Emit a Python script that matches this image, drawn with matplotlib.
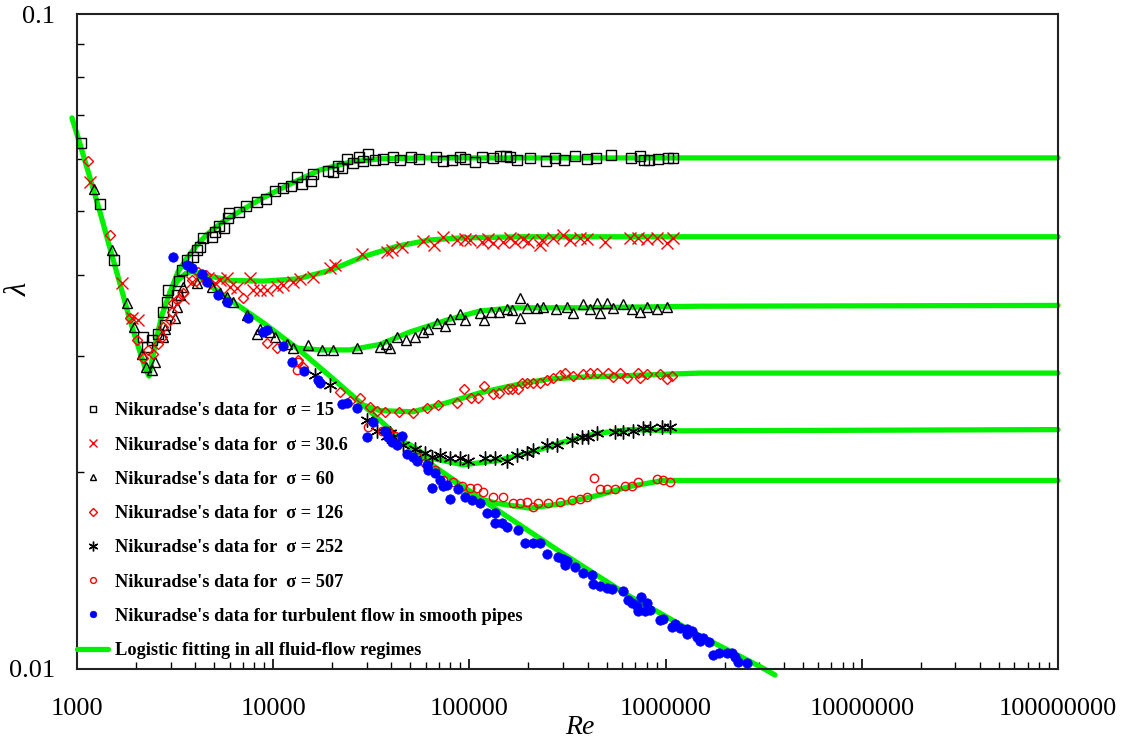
import numpy as np
import matplotlib.pyplot as plt
from matplotlib.ticker import NullFormatter, FixedLocator, LogLocator

plt.rcParams['font.family'] = ['Liberation Serif', 'DejaVu Serif']

# Nikuradse's data, sigma = 15
re_15 = [1048, 1311, 1544, 2168, 2273, 2411, 2587, 2743, 2809, 2875, 2909, 3234, 3310, 3428, 3636, 3902,
         4093, 4236, 4387, 4877, 5053, 5293, 5617, 5889, 5958, 6690, 7262, 8268, 9190, 10220, 11220, 12330,
         13220, 14000, 15590, 15960, 19010, 20170, 21390, 22400, 23760, 25500, 27360, 28690, 30420, 33010,
         36300, 40810, 44310, 50420, 55380, 67520, 73380, 81500, 89520, 94920, 106800, 115900, 132000,
         143800, 153700, 161200, 175600, 203500, 245700, 273300, 303500, 345600, 397700, 441900, 527300,
         666900, 741400, 776000, 822900, 915000, 1029000, 1091000]
lam_15 = [0.0635, 0.0513, 0.0421, 0.0321, 0.0310, 0.0318, 0.0325, 0.0351, 0.0335, 0.0363, 0.0379, 0.0372,
          0.0391, 0.0406, 0.0421, 0.0425, 0.0436, 0.0441, 0.0455, 0.0457, 0.0465, 0.0474, 0.0472, 0.0488,
          0.0497, 0.0498, 0.0509, 0.0516, 0.0522, 0.0537, 0.0543, 0.0546, 0.0564, 0.0550, 0.0556, 0.0570,
          0.0576, 0.0573, 0.0586, 0.0582, 0.0601, 0.0592, 0.0605, 0.0597, 0.0611, 0.0599, 0.0601, 0.0605,
          0.0599, 0.0605, 0.0601, 0.0605, 0.0597, 0.0599, 0.0605, 0.0601, 0.0594, 0.0605, 0.0603, 0.0607,
          0.0607, 0.0605, 0.0599, 0.0603, 0.0597, 0.0603, 0.0599, 0.0607, 0.0601, 0.0603, 0.0609, 0.0603,
          0.0607, 0.0599, 0.0599, 0.0601, 0.0603, 0.0603]

# sigma = 30.6
re_30 = [1165, 1696, 1905, 2045, 3469, 3858, 4336, 4630, 5054, 5358, 5819, 6026, 6535, 7610, 7887, 8562,
         9293, 10460, 11220, 12620, 13700, 15960, 19470, 20630, 28330, 38020, 40330, 45300, 58040, 66000,
         73390, 86420, 94920, 100700, 115900, 124500, 132000, 148400, 161200, 171000, 187500, 198700,
         228800, 234400, 266800, 299800, 325700, 366200, 397600, 491200, 658800, 721900, 803800, 904000,
         1018000, 1091000]
lam_30 = [0.0554, 0.0388, 0.0343, 0.0341, 0.0369, 0.0390, 0.0392, 0.0395, 0.0388, 0.0392, 0.0395, 0.0383,
          0.0382, 0.0395, 0.0379, 0.0379, 0.0379, 0.0383, 0.0386, 0.0390, 0.0394, 0.0397, 0.0409, 0.0414,
          0.0430, 0.0433, 0.0436, 0.0441, 0.0450, 0.0444, 0.0457, 0.0452, 0.0454, 0.0452, 0.0449, 0.0454,
          0.0447, 0.0449, 0.0455, 0.0449, 0.0454, 0.0449, 0.0444, 0.0452, 0.0455, 0.0460, 0.0452, 0.0455,
          0.0454, 0.0449, 0.0455, 0.0455, 0.0454, 0.0455, 0.0447, 0.0455]

# sigma = 60
re_60 = [1221, 1509, 1799, 1951, 2143, 2244, 2409, 2497, 2743, 2809, 3158, 3235, 3349, 3469, 4093, 4877,
         5358, 5819, 6235, 7347, 8269, 8562, 9630, 10220, 11760, 12620, 15060, 17730, 20170, 26730, 35030,
         37630, 39390, 42840, 47530, 52830, 58040, 61550, 68340, 75090, 79590, 89520, 94920, 113200,
         118700, 128900, 141600, 155700, 165000, 181200, 181200, 196500, 220700, 237200, 276600, 314400,
         337100, 379400, 412000, 447100, 462200, 503200, 539300, 607000, 674600, 741400, 803800, 904000,
         1018000]
lam_60 = [0.0541, 0.0436, 0.0362, 0.0333, 0.0303, 0.0289, 0.0286, 0.0294, 0.0321, 0.0331, 0.0344, 0.0357,
          0.0372, 0.0383, 0.0388, 0.0383, 0.0375, 0.0370, 0.0363, 0.0347, 0.0325, 0.0331, 0.0327, 0.0321,
          0.0314, 0.0309, 0.0312, 0.0307, 0.0307, 0.0309, 0.0310, 0.0313, 0.0309, 0.0321, 0.0318, 0.0321,
          0.0327, 0.0330, 0.0338, 0.0334, 0.0342, 0.0348, 0.0341, 0.0350, 0.0341, 0.0351, 0.0351, 0.0354,
          0.0353, 0.0369, 0.0343, 0.0356, 0.0356, 0.0357, 0.0354, 0.0357, 0.0350, 0.0361, 0.0354, 0.0362,
          0.0350, 0.0362, 0.0356, 0.0361, 0.0355, 0.0351, 0.0357, 0.0355, 0.0357]

# sigma = 126
re_126 = [1138, 1473, 1861, 2021, 2168, 2301, 2439, 2587, 2710, 2743, 2979, 3048, 3086, 3235, 3469, 3858,
          4140, 4570, 7010, 9293, 10460, 13380, 14190, 21880, 24620, 27730, 31140, 33800, 37060, 43790,
          51620, 60770, 69100, 86420, 93800, 101900, 110600, 118700, 132000, 141600, 157700, 165000,
          177100, 185400, 196500, 210900, 228800, 248500, 266800, 289300, 307000, 337300, 379400, 411700,
          447100, 508700, 539300, 585900, 636000, 721900, 741400, 803800, 936000, 1018000, 1079000]
lam_126 = [0.0596, 0.0460, 0.0343, 0.0318, 0.0298, 0.0307, 0.0303, 0.0314, 0.0321, 0.0333, 0.0341, 0.0351,
           0.0362, 0.0366, 0.0375, 0.0392, 0.0404, 0.0399, 0.0369, 0.0315, 0.0309, 0.0296, 0.0289, 0.0265,
           0.0257, 0.0259, 0.0251, 0.0248, 0.0247, 0.0247, 0.0246, 0.0250, 0.0253, 0.0255, 0.0268, 0.0259,
           0.0259, 0.0270, 0.0263, 0.0264, 0.0268, 0.0268, 0.0268, 0.0273, 0.0273, 0.0273, 0.0273, 0.0276,
           0.0278, 0.0281, 0.0283, 0.0280, 0.0282, 0.0283, 0.0283, 0.0283, 0.0279, 0.0283, 0.0278, 0.0283,
           0.0278, 0.0282, 0.0282, 0.0277, 0.0280]

# sigma = 252
re_252 = [16340, 19460, 30060, 33800, 38010, 39390, 40810, 45900, 52830, 59440, 64430, 70800, 79590, 89520,
          97940, 120100, 135100, 155700, 175000, 196200, 210900, 248500, 279600, 333300, 375000, 402500,
          447100, 552300, 607000, 682700, 766500, 832400, 958000, 1053000]
lam_252 = [0.0281, 0.0271, 0.0240, 0.0231, 0.0227, 0.0229, 0.0226, 0.0220, 0.0217, 0.0214, 0.0211, 0.0212,
           0.0210, 0.0210, 0.0208, 0.0210, 0.0210, 0.0208, 0.0212, 0.0214, 0.0216, 0.0220, 0.0220, 0.0224,
           0.0226, 0.0226, 0.0229, 0.0230, 0.0230, 0.0231, 0.0233, 0.0233, 0.0234, 0.0234]

# sigma = 507
re_507 = [13220, 13380, 30420, 35860, 38450, 41760, 54080, 59440, 66760, 73390, 82450, 91660, 100700,
          109300, 117400, 132000, 148400, 166900, 181200, 196500, 210900, 223600, 251500, 289300, 333300,
          366200, 398100, 431900, 462200, 503200, 552800, 621500, 674600, 721900, 904000, 970000, 1053000]
lam_507 = [0.0286, 0.0294, 0.0234, 0.0231, 0.0231, 0.0227, 0.0211, 0.0206, 0.0201, 0.0194, 0.0193, 0.0190,
           0.0189, 0.0189, 0.0186, 0.0183, 0.0183, 0.0179, 0.0179, 0.0180, 0.0177, 0.0179, 0.0179, 0.0180,
           0.0181, 0.0182, 0.0183, 0.0196, 0.0188, 0.0188, 0.0188, 0.0190, 0.0190, 0.0193, 0.0195, 0.0194,
           0.0193]

# smooth pipes
re_sm = [3085, 3636, 3852, 4336, 4590, 5233, 5819, 7433, 8873, 9293, 11220, 12480, 14400, 16930, 17320,
         22400, 23760, 26800, 30060, 32250, 37060, 38340, 40330, 42840, 45300, 48070, 51620, 54080, 60770,
         61520, 64430, 66760, 70800, 73390, 76810, 79590, 87450, 94920, 103100, 113200, 122900, 135100,
         135100, 146700, 155700, 177100, 191900, 210900, 228800, 248500, 282900, 299800, 314400, 307000,
         345600, 379400, 421600, 426400, 462200, 503200, 533300, 607000, 643600, 674600, 714900, 749000,
         803800, 722800, 784800, 832400, 936000, 970000, 1079000, 1117000, 1183000, 1287000, 1287000,
         1366000, 1450000, 1502000, 1556000, 1664000, 1745000, 1869000, 2057000, 2188000, 2266000,
         2348000, 2600000]
lam_sm = [0.0425, 0.0414, 0.0409, 0.0401, 0.0390, 0.0372, 0.0363, 0.0343, 0.0327, 0.0329, 0.0311, 0.0294,
          0.0285, 0.0276, 0.0273, 0.0254, 0.0255, 0.0250, 0.0226, 0.0238, 0.0231, 0.0226, 0.0222, 0.0220,
          0.0227, 0.0213, 0.0211, 0.0208, 0.0205, 0.0201, 0.0189, 0.0199, 0.0194, 0.0190, 0.0191, 0.0182,
          0.0188, 0.0183, 0.0181, 0.0179, 0.0173, 0.0173, 0.0167, 0.0167, 0.0165, 0.0163, 0.0156, 0.0156,
          0.0156, 0.0150, 0.0148, 0.0147, 0.0146, 0.0144, 0.0143, 0.0140, 0.0139, 0.01348, 0.01339,
          0.01329, 0.01324, 0.01315, 0.01274, 0.01261, 0.01248, 0.01288, 0.01261, 0.01226, 0.01226,
          0.01231, 0.01189, 0.01193, 0.01160, 0.01172, 0.01156, 0.01152, 0.01129, 0.01144, 0.01121,
          0.01102, 0.01117, 0.01098, 0.01050, 0.01058, 0.01058, 0.01058, 0.01043, 0.01025, 0.01021]

# logistic fitting curves (pieces)
fit_lam_re = [943, 1036, 1165, 1311, 1473, 1658, 1861, 2093, 2244, 2329, 2497, 2710, 2979]
fit_lam_l = [0.0694, 0.0633, 0.0562, 0.0498, 0.0439, 0.0387, 0.0341, 0.0305, 0.0286, 0.0280, 0.0312, 0.0347, 0.0376]
fit15_re = [2979, 3272, 3636, 4093, 4570, 5498, 6771, 8865, 12190, 17320, 24620, 35030, 56040, 1e8]
fit15_l = [0.0376, 0.0404, 0.0424, 0.0444, 0.0460, 0.0481, 0.0500, 0.0524, 0.0550, 0.0578, 0.0594, 0.0601, 0.0603, 0.0603]
fit_hump_re = [2979, 3272, 3598, 3902]
fit_hump_l = [0.0376, 0.0392, 0.0402, 0.0405]
fit_sm_re = [3902, 4937, 6026, 8873, 13220, 19480, 28690, 42760, 63000, 92780, 138200, 203700, 300000,
             447200, 658500, 970100, 1445000, 2129000, 3137000, 3611000]
fit_sm_l = [0.0405, 0.0382, 0.0366, 0.0338, 0.0309, 0.0280, 0.0253, 0.0227, 0.0206, 0.0190, 0.0175, 0.0162,
            0.0150, 0.0139, 0.0129, 0.0121, 0.0113, 0.01065, 0.01003, 0.00979]
fit30_re = [3902, 4765, 6026, 8873, 13220, 19480, 28690, 42760, 63000, 89520, 181200, 1e8]
fit30_l = [0.0405, 0.0398, 0.0392, 0.0391, 0.0394, 0.0406, 0.0426, 0.0442, 0.0452, 0.0455, 0.0457, 0.0457]
fit60_re = [13220, 17320, 24620, 35030, 49830, 76870, 113200, 166900, 366200, 1497000, 1e8]
fit60_l = [0.0309, 0.0307, 0.0307, 0.0313, 0.0327, 0.0341, 0.0352, 0.0356, 0.0356, 0.0358, 0.0359]
fit126_re = [28690, 35030, 51590, 76870, 113200, 166800, 248600, 366300, 539400, 1497000, 1e8]
fit126_l = [0.0253, 0.0248, 0.0247, 0.0255, 0.0264, 0.0271, 0.0277, 0.0279, 0.0280, 0.0283, 0.0283]
fit252_re = [49800, 63000, 92780, 138200, 203700, 300000, 447200, 658500, 1184000, 1e8]
fit252_l = [0.0220, 0.0210, 0.0205, 0.0208, 0.0214, 0.0222, 0.0229, 0.0232, 0.0231, 0.0232]
fit507_re = [79620, 92780, 113200, 138200, 203700, 300000, 447200, 658500, 970100, 1497000, 1e8]
fit507_l = [0.0196, 0.0188, 0.0182, 0.0179, 0.0176, 0.0179, 0.0184, 0.0190, 0.0194, 0.0194, 0.0194]

fig = plt.figure(figsize=(11.37, 7.38), dpi=100)
ax = fig.add_axes([0.0677, 0.0935, 0.8628, 0.8875])
ax.set_xscale('log')
ax.set_yscale('log')

green = '#00f000'
fits = [(fit_lam_re, fit_lam_l), (fit15_re, fit15_l), (fit_hump_re, fit_hump_l), (fit_sm_re, fit_sm_l),
        (fit30_re, fit30_l), (fit60_re, fit60_l), (fit126_re, fit126_l), (fit252_re, fit252_l),
        (fit507_re, fit507_l)]
for i, (fx, fy) in enumerate(fits):
    ax.plot(fx, fy, color=green, lw=3.8, solid_capstyle='round', solid_joinstyle='round',
            clip_on=False, zorder=2,
            label='Logistic fitting in all fluid-flow regimes' if i == 0 else None)

lbl = "Nikuradse's data for  σ = "
ax.plot(re_15, lam_15, ls='none', marker='s', ms=6.5, mfc='none', mec='k', mew=1, zorder=3, label=lbl + '15')
ax.plot(re_30, lam_30, ls='none', marker='x', ms=9, mec='red', mew=1, zorder=3, label=lbl + '30.6')
ax.plot(re_60, lam_60, ls='none', marker='^', ms=7, mfc='none', mec='k', mew=1, zorder=3, label=lbl + '60')
ax.plot(re_126, lam_126, ls='none', marker='D', ms=5.5, mfc='none', mec='red', mew=1, zorder=3, label=lbl + '126')
ax.plot(re_252, lam_252, ls='none', marker=(6, 2, 0), ms=10, mec='k', mew=1, zorder=3, label=lbl + '252')
ax.plot(re_507, lam_507, ls='none', marker='o', ms=6, mfc='none', mec='red', mew=1, zorder=3, label=lbl + '507')
ax.plot(re_sm, lam_sm, ls='none', marker='o', ms=6.8, mfc='blue', mec='blue', mew=0.5, zorder=4,
        label="Nikuradse's data for turbulent flow in smooth pipes")

ax.set_xlim(1000, 1e8)
ax.set_ylim(0.01, 0.1)

xt = [1000, 10000, 100000, 1000000, 10000000, 100000000]
ax.xaxis.set_major_locator(FixedLocator(xt))
ax.set_xticklabels([str(v) for v in xt])
ax.xaxis.set_minor_locator(LogLocator(base=10, subs=np.arange(2, 10), numticks=20))
ax.xaxis.set_minor_formatter(NullFormatter())
ax.yaxis.set_major_locator(FixedLocator([0.01, 0.1]))
ax.set_yticklabels(['0.01', '0.1'])
ax.yaxis.set_minor_locator(LogLocator(base=10, subs=np.arange(2, 10), numticks=20))
ax.yaxis.set_minor_formatter(NullFormatter())

ax.tick_params(which='both', direction='in', top=False, right=False, labelsize=19, colors='k')
ax.tick_params(which='major', length=7, width=1.2)
ax.tick_params(which='minor', length=5, width=1)
ax.tick_params(axis='x', which='major', pad=21)
ax.tick_params(axis='y', which='major', pad=16)
for s in ax.spines.values():
    s.set_linewidth(1.5)
    s.set_color('#222222')

ax.set_xlabel('Re', fontsize=20, style='italic')
ax.xaxis.set_label_coords(0.513, -0.07)
ax.set_ylabel('λ', fontsize=22, style='italic')
ax.yaxis.set_label_coords(-0.044, 0.58)

h, l = ax.get_legend_handles_labels()
order = [1, 2, 3, 4, 5, 6, 7, 0]
leg = ax.legend([h[i] for i in order], [l[i] for i in order], loc='upper left',
                bbox_to_anchor=(0.0, 0.407), frameon=False, prop={'weight': 'bold', 'size': 13.2},
                handlelength=1.7, handletextpad=0.35, labelspacing=0.94, borderpad=0,
                borderaxespad=0, markerscale=0.7)

fig.savefig('out.png', dpi=100)
